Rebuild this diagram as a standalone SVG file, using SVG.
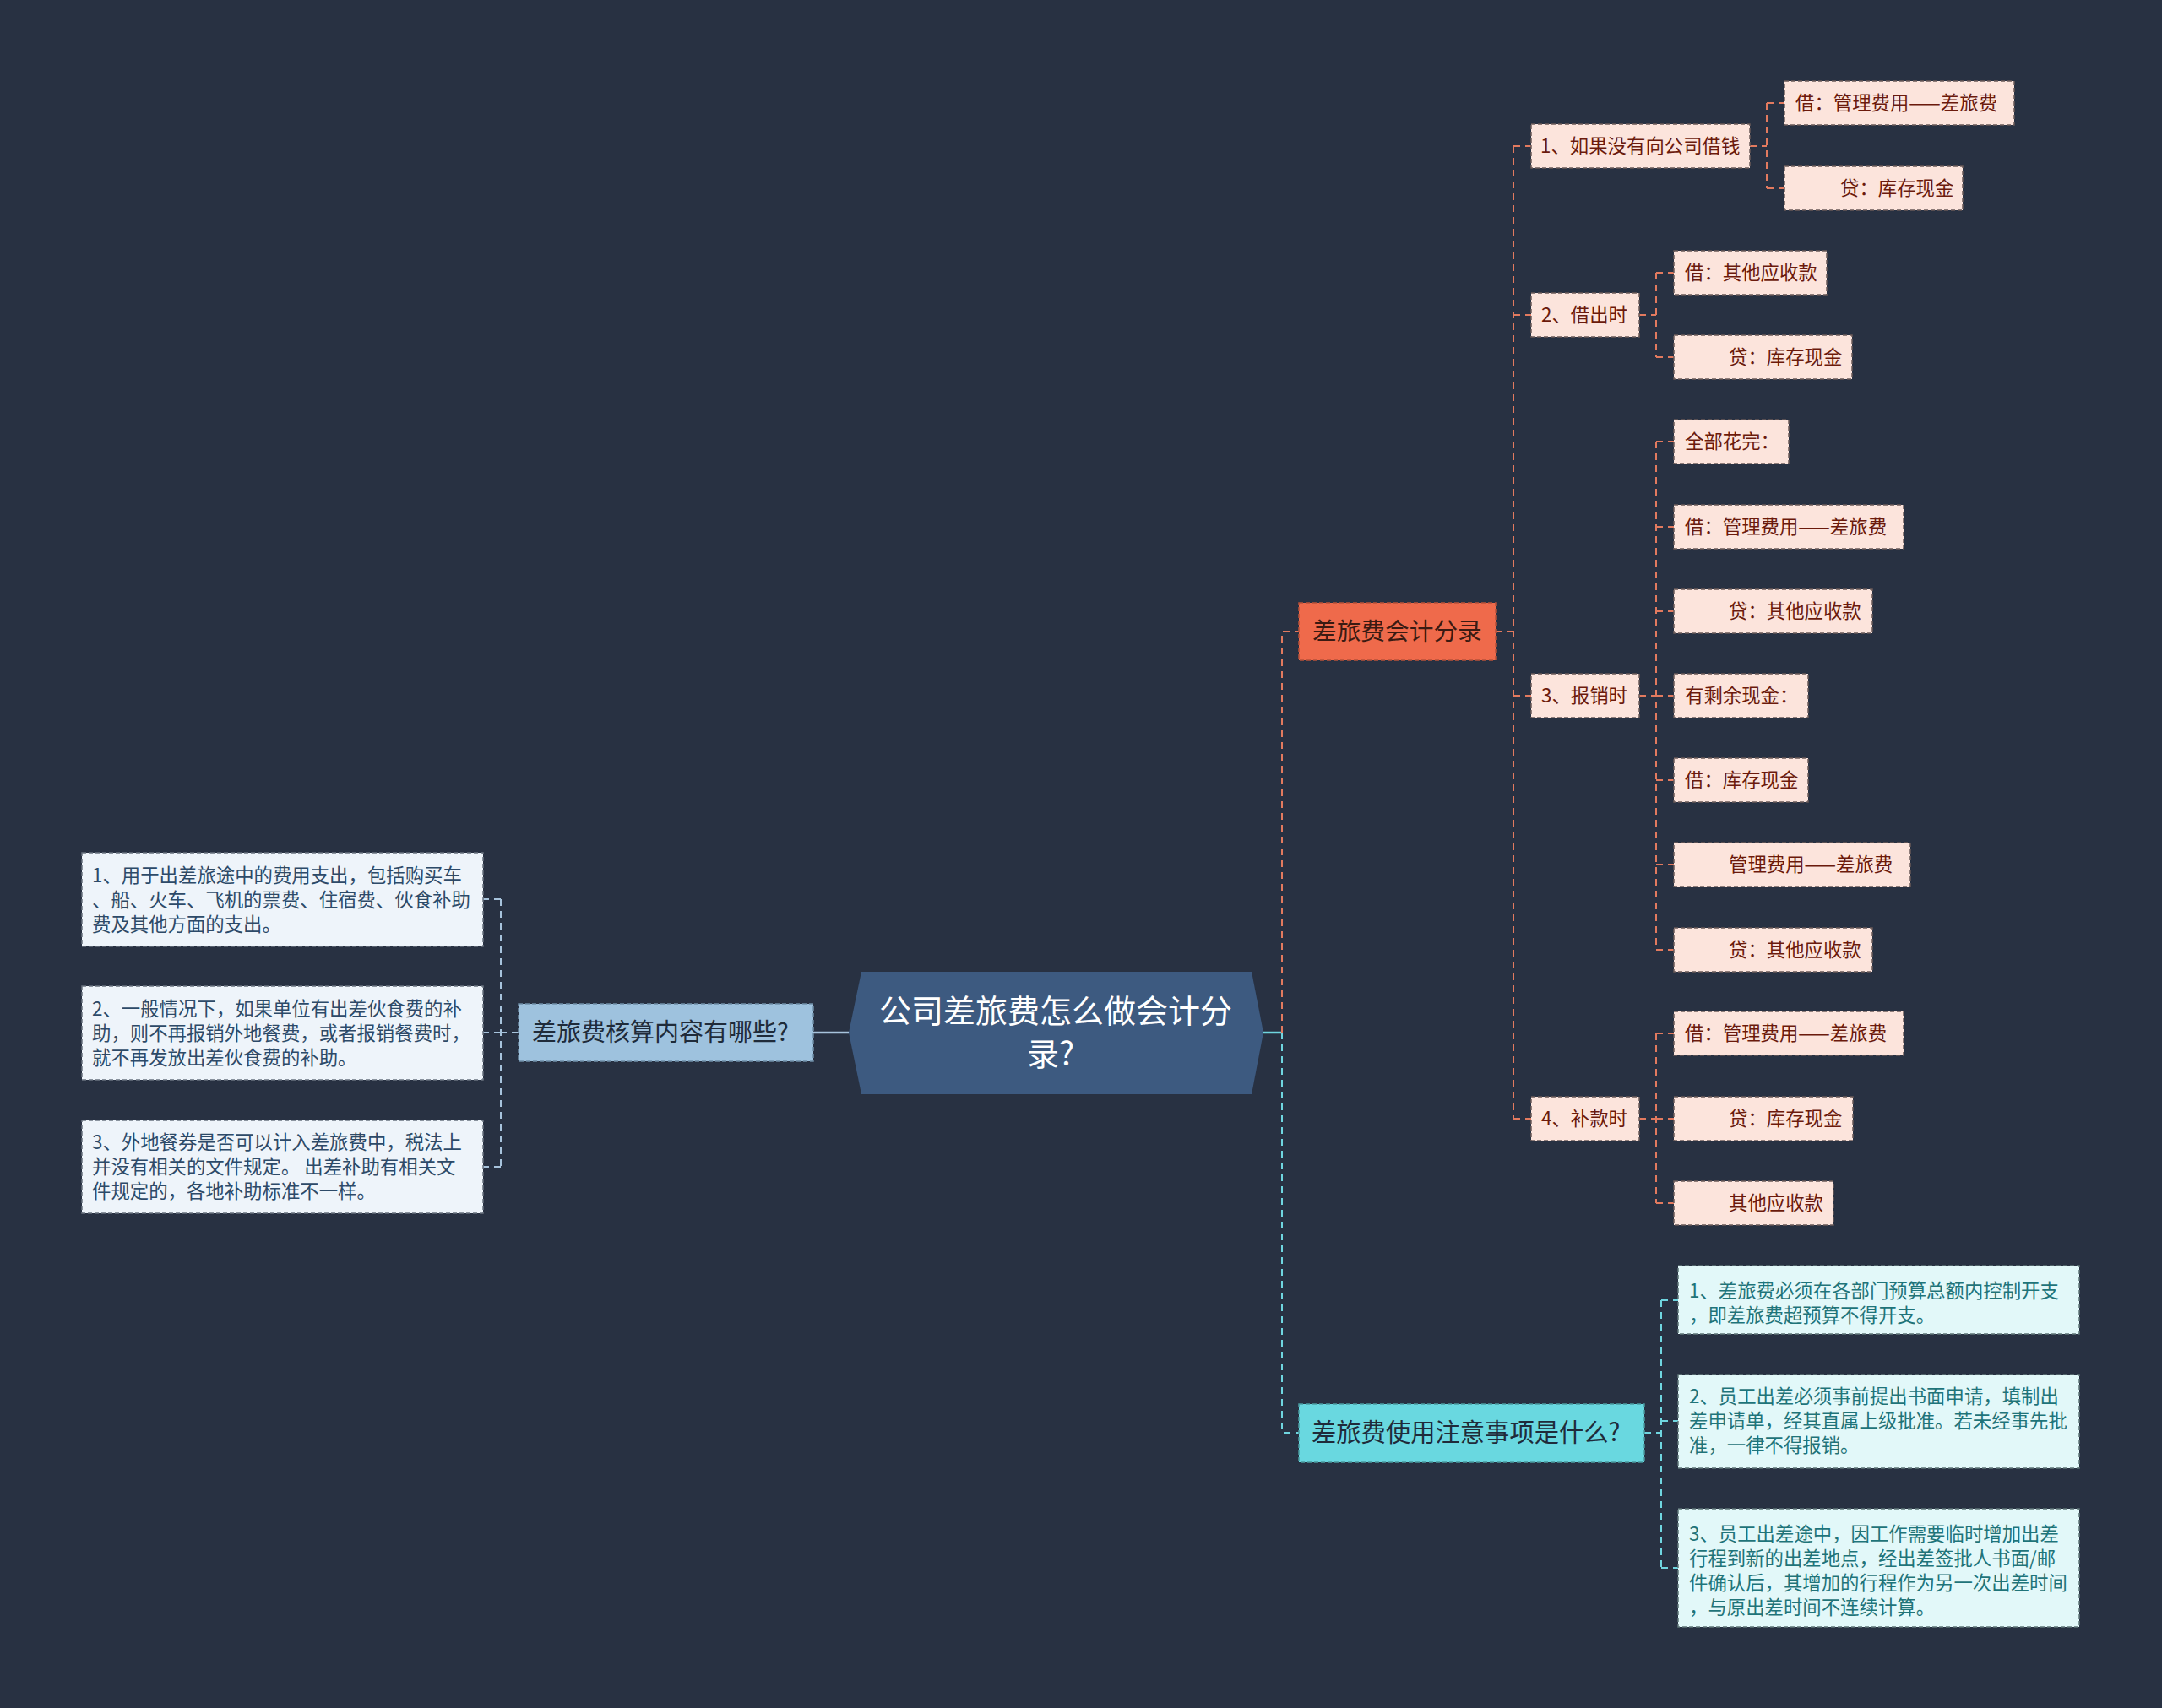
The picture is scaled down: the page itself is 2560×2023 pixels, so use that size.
<svg xmlns="http://www.w3.org/2000/svg" width="2560" height="2023" viewBox="0 0 2560 2023">
<style>
text{font-family:"Noto Sans CJK SC","Noto Sans",sans-serif;}
.bd{stroke-dasharray:5 3;stroke-width:1.5;}
.pk rect{fill:#fce4dc;stroke:#6a5a58;}
.pk text{fill:#6b1a0c;font-size:22.4px;}
.lb rect{fill:#eef4fa;stroke:#6a7380;}
.lb text{fill:#2d4a68;font-size:22.4px;}
.cb rect{fill:#e2f8f9;stroke:#5f7678;}
.cb text{fill:#1f7479;font-size:22.4px;}
.co{fill:none;stroke:#e27a5f;stroke-width:2;stroke-dasharray:8 6;}
.cc{fill:none;stroke:#6fd5df;stroke-width:2;stroke-dasharray:8 6;}
.cl{fill:none;stroke:#a7c3dc;stroke-width:2;stroke-dasharray:8 6;}
</style>
<rect width="2560" height="2023" fill="#283142"/>
<g id="connectors">
<line x1="1496" y1="1223" x2="1518" y2="1223" stroke="#6fd5df" stroke-width="2.5"/>
<line x1="1005" y1="1223" x2="963" y2="1223" stroke="#a7c3dc" stroke-width="2.5"/>
<path class="co" d="M1518 1223 V748 H1538"/>
<path class="cc" d="M1518 1223 V1697 H1538"/>
<path class="co" d="M1771 748 H1792 M1792 173 V1325 M1792 173 H1813 M1792 373 H1813 M1792 824 H1813 M1792 1325 H1813"/>
<path class="co" d="M2072 173 H2092 M2092 122 V223 M2092 122 H2113 M2092 223 H2113"/>
<path class="co" d="M1941 373 H1961 M1961 323 V423 M1961 323 H1982 M1961 423 H1982"/>
<path class="co" d="M1941 824 H1961 M1961 523 V1125 M1961 523 H1982 M1961 624 H1982 M1961 724 H1982 M1961 824 H1982 M1961 924 H1982 M1961 1024 H1982 M1961 1125 H1982"/>
<path class="co" d="M1941 1325 H1961 M1961 1224 V1425 M1961 1224 H1982 M1961 1325 H1982 M1961 1425 H1982"/>
<path class="cc" d="M1947 1697 H1967 M1967 1540 V1857 M1967 1540 H1987 M1967 1683 H1987 M1967 1857 H1987"/>
<path class="cl" d="M614 1223 H593 M593 1065 V1382 M593 1065 H572 M593 1223 H572 M593 1382 H572"/>
</g>
<g id="root">
<polygon points="1005,1223 1020,1151 1482,1151 1496,1223 1482,1296 1020,1296" fill="#3d5a80"/>
<text x="1250" y="1211" font-size="38" fill="#ffffff" text-anchor="middle">公司差旅费怎么做会计分</text>
<text x="1244" y="1262" font-size="38" fill="#ffffff" text-anchor="middle">录?</text>
</g>
<g id="n-entries">
<rect x="1538" y="714" width="233" height="68" fill="#ef6a4b" stroke="#b8513a" class="bd"/>
<text x="1554" y="758" font-size="28.7" fill="#3a1a12">差旅费会计分录</text>
</g>
<g id="n-check">
<rect x="614" y="1189" width="349" height="68" fill="#9ec2de" stroke="#6f8ea8" class="bd"/>
<text x="630" y="1233" font-size="29" fill="#1f2b3a">差旅费核算内容有哪些?</text>
</g>
<g id="n-notice">
<rect x="1538" y="1663" width="409" height="69" fill="#69d8e0" stroke="#4a9aa0" class="bd"/>
<text x="1553" y="1707" font-size="29.3" fill="#1f2b3a">差旅费使用注意事项是什么?</text>
</g>
<g id="n-1" class="pk"><rect class="bd" x="1813" y="147" width="259" height="52"/><text x="1824" y="181">1、如果没有向公司借钱</text></g>
<g id="n-2" class="pk"><rect class="bd" x="1813" y="347" width="128" height="52"/><text x="1825" y="381">2、借出时</text></g>
<g id="n-3" class="pk"><rect class="bd" x="1813" y="798" width="128" height="52"/><text x="1825" y="832">3、报销时</text></g>
<g id="n-4" class="pk"><rect class="bd" x="1813" y="1299" width="128" height="52"/><text x="1825" y="1333">4、补款时</text></g>
<g id="n-1a" class="pk"><rect class="bd" x="2113" y="96" width="272" height="52"/><text x="2126" y="130">借：管理费用——差旅费</text></g>
<g id="n-1b" class="pk"><rect class="bd" x="2113" y="197" width="211" height="52"/><text x="2179" y="231">贷：库存现金</text></g>
<g id="n-2a" class="pk"><rect class="bd" x="1982" y="297" width="181" height="52"/><text x="1995" y="331">借：其他应收款</text></g>
<g id="n-2b" class="pk"><rect class="bd" x="1982" y="397" width="211" height="52"/><text x="2047" y="431">贷：库存现金</text></g>
<g id="n-3a" class="pk"><rect class="bd" x="1982" y="497" width="136" height="52"/><text x="1995" y="531">全部花完：</text></g>
<g id="n-3b" class="pk"><rect class="bd" x="1982" y="598" width="272" height="52"/><text x="1995" y="632">借：管理费用——差旅费</text></g>
<g id="n-3c" class="pk"><rect class="bd" x="1982" y="698" width="235" height="52"/><text x="2047" y="732">贷：其他应收款</text></g>
<g id="n-3d" class="pk"><rect class="bd" x="1982" y="798" width="159" height="52"/><text x="1995" y="832">有剩余现金：</text></g>
<g id="n-3e" class="pk"><rect class="bd" x="1982" y="898" width="159" height="52"/><text x="1995" y="932">借：库存现金</text></g>
<g id="n-3f" class="pk"><rect class="bd" x="1982" y="998" width="280" height="52"/><text x="2047" y="1032">管理费用——差旅费</text></g>
<g id="n-3g" class="pk"><rect class="bd" x="1982" y="1099" width="235" height="52"/><text x="2047" y="1133">贷：其他应收款</text></g>
<g id="n-4a" class="pk"><rect class="bd" x="1982" y="1198" width="272" height="52"/><text x="1995" y="1232">借：管理费用——差旅费</text></g>
<g id="n-4b" class="pk"><rect class="bd" x="1982" y="1299" width="212" height="52"/><text x="2047" y="1333">贷：库存现金</text></g>
<g id="n-4c" class="pk"><rect class="bd" x="1982" y="1399" width="189" height="52"/><text x="2047" y="1433">其他应收款</text></g>
<g id="l-1" class="lb"><rect class="bd" x="97" y="1010" width="475" height="111"/>
<text x="109" y="1045">1、用于出差旅途中的费用支出，包括购买车</text>
<text x="109" y="1074">、船、火车、飞机的票费、住宿费、伙食补助</text>
<text x="109" y="1103">费及其他方面的支出。</text></g>
<g id="l-2" class="lb"><rect class="bd" x="97" y="1168" width="475" height="111"/>
<text x="109" y="1203">2、一般情况下，如果单位有出差伙食费的补</text>
<text x="109" y="1232">助，则不再报销外地餐费，或者报销餐费时，</text>
<text x="109" y="1261">就不再发放出差伙食费的补助。</text></g>
<g id="l-3" class="lb"><rect class="bd" x="97" y="1327" width="475" height="110"/>
<text x="109" y="1361">3、外地餐券是否可以计入差旅费中，税法上</text>
<text x="109" y="1390">并没有相关的文件规定。 出差补助有相关文</text>
<text x="109" y="1419">件规定的，各地补助标准不一样。</text></g>
<g id="c-1" class="cb"><rect class="bd" x="1987" y="1499" width="475" height="81"/>
<text x="2000" y="1537">1、差旅费必须在各部门预算总额内控制开支</text>
<text x="2000" y="1566">，即差旅费超预算不得开支。</text></g>
<g id="c-2" class="cb"><rect class="bd" x="1987" y="1628" width="475" height="111"/>
<text x="2000" y="1662">2、员工出差必须事前提出书面申请，填制出</text>
<text x="2000" y="1691">差申请单，经其直属上级批准。若未经事先批</text>
<text x="2000" y="1720">准，一律不得报销。</text></g>
<g id="c-3" class="cb"><rect class="bd" x="1987" y="1787" width="475" height="140"/>
<text x="2000" y="1825">3、员工出差途中，因工作需要临时增加出差</text>
<text x="2000" y="1854">行程到新的出差地点，经出差签批人书面/邮</text>
<text x="2000" y="1883">件确认后，其增加的行程作为另一次出差时间</text>
<text x="2000" y="1912">，与原出差时间不连续计算。</text></g>
</svg>
